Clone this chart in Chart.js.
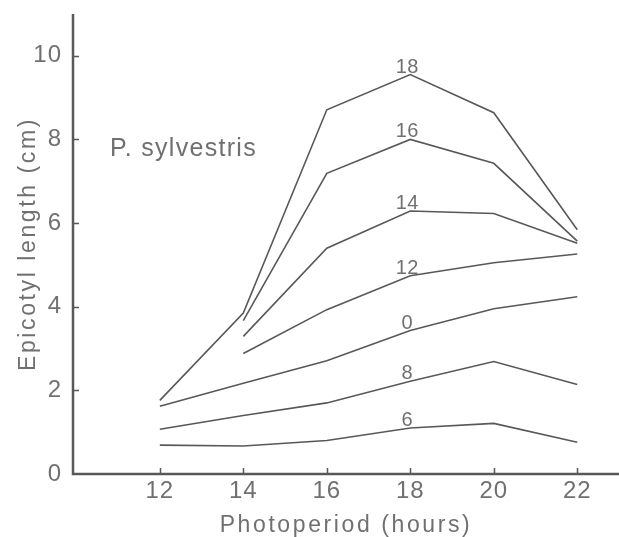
<!DOCTYPE html>
<html>
<head>
<meta charset="utf-8">
<script src="https://cdn.jsdelivr.net/npm/chart.js@4.4.1/dist/chart.umd.min.js"></script>
<style>
  html, body { margin: 0; padding: 0; background: #ffffff; overflow: hidden; }
  #wrap { height: 537px; position: relative; }
  canvas { display: block; }
</style>
</head>
<body>
<div id="wrap"><canvas id="c"></canvas></div>
<script>
// ---- data ----
const photoperiod = [12, 14, 16, 18, 20, 22];
const xTickValues = [12, 14, 16, 18, 20, 22];
const yTickValues = [0, 2, 4, 6, 8, 10];
const seriesNames = ['18', '16', '14', '12', '0', '8', '6'];
const s18 = [1.76, 3.85, 8.71, 9.55, 8.64, 5.84];
const s16 = [null, 3.67, 7.19, 8.00, 7.43, 5.57];
const s14 = [null, 3.29, 5.40, 6.29, 6.23, 5.52];
const s12 = [null, 2.88, 3.93, 4.74, 5.05, 5.26];
const s0  = [1.62, 2.17, 2.71, 3.43, 3.95, 4.24];
const s8  = [1.07, 1.40, 1.70, 2.22, 2.69, 2.14];
const s6  = [0.69, 0.67, 0.80, 1.10, 1.21, 0.76];
const seriesValues = [s18, s16, s14, s12, s0, s8, s6];
const labelAtHour = 18;
const xTitle = 'Photoperiod (hours)';
const yTitle = 'Epicotyl length (cm)';
const speciesNote = 'P. sylvestris';

const INK = '#585858';
const TEXT = '#707070';
const FONT = '"Liberation Sans", Arial, sans-serif';

const BASE_W = 619;
const canvasEl = document.getElementById('c');
const W = Math.max(BASE_W, window.innerWidth || BASE_W);
canvasEl.width = W;
canvasEl.height = 537;
canvasEl.style.width = W + 'px';
canvasEl.style.height = '537px';

const datasets = seriesNames.map((name, i) => ({
  label: name,
  data: photoperiod.map((h, j) => ({ x: h, y: seriesValues[i][j] })).filter(p => p.y !== null),
  borderColor: INK,
  borderWidth: 1.6,
  pointRadius: 0,
  fill: false,
  tension: 0
}));

const extrasPlugin = {
  id: 'extras',
  beforeLayout(chart) { chart.ctx.letterSpacing = '1px'; },
  beforeDraw(chart) { chart.ctx.letterSpacing = '1px'; },
  afterDraw(chart) {
    const ctx = chart.ctx;
    const xs = chart.scales.x, ys = chart.scales.y;
    const area = chart.chartArea;
    ctx.save();
    // axis lines
    ctx.strokeStyle = INK;
    ctx.lineWidth = 2.5;
    ctx.beginPath();
    ctx.moveTo(area.left, area.top);
    ctx.lineTo(area.left, area.bottom);
    ctx.lineTo(chart.width, area.bottom);
    ctx.stroke();
    // inward tick marks
    ctx.lineWidth = 1.5;
    ctx.beginPath();
    xTickValues.forEach(v => {
      const px = Math.round(xs.getPixelForValue(v)) + 0.5;
      ctx.moveTo(px, area.bottom);
      ctx.lineTo(px, area.bottom - 6);
    });
    yTickValues.forEach(v => {
      if (v === 0) return;
      const py = Math.round(ys.getPixelForValue(v)) + 0.5;
      ctx.moveTo(area.left, py);
      ctx.lineTo(area.left + 6, py);
    });
    ctx.stroke();

    // series labels above the 18 h point
    ctx.fillStyle = TEXT;
    ctx.letterSpacing = '0.5px';
    ctx.font = '20px ' + FONT;
    ctx.textAlign = 'center';
    ctx.textBaseline = 'alphabetic';
    const idx = photoperiod.indexOf(labelAtHour);
    seriesNames.forEach((name, i) => {
      const v = seriesValues[i][idx];
      const px = xs.getPixelForValue(labelAtHour);
      const py = ys.getPixelForValue(v);
      ctx.fillText(name, px - 3, py - 2);
    });

    // species note
    ctx.letterSpacing = '1.3px';
    ctx.font = '25px ' + FONT;
    ctx.textAlign = 'left';
    ctx.textBaseline = 'alphabetic';
    ctx.fillText(speciesNote, 110, 156);

    // axis titles (centred on the plot area)
    ctx.letterSpacing = '2.6px';
    ctx.font = '23px ' + FONT;
    ctx.textAlign = 'center';
    ctx.textBaseline = 'alphabetic';
    ctx.fillText(xTitle, (area.left + area.right) / 2, 532);
    ctx.save();
    ctx.translate(35, (area.top + area.bottom) / 2);
    ctx.rotate(-Math.PI / 2);
    ctx.fillText(yTitle, 0, 0);
    ctx.restore();
    ctx.restore();
  }
};

new Chart(canvasEl, {
  type: 'line',
  data: { datasets },
  options: {
    responsive: false,
    animation: false,
    devicePixelRatio: 1,
    events: [],
    layout: { padding: { top: 14, right: W - BASE_W, left: 0, bottom: 0 } },
    plugins: { legend: { display: false }, tooltip: { enabled: false } },
    scales: {
      x: {
        type: 'linear',
        min: 9.92,
        max: 23,
        afterBuildTicks: s => { s.ticks = xTickValues.map(v => ({ value: v })); },
        afterFit: s => { s.height = 63; s.paddingLeft = 0; s.paddingRight = 0; },
        grid: { display: false, drawTicks: false },
        border: { display: false },
        ticks: { color: TEXT, font: { family: FONT, size: 24 }, padding: 3, maxRotation: 0, autoSkip: false },
        title: { display: false }
      },
      y: {
        type: 'linear',
        min: 0,
        max: 11,
        afterBuildTicks: s => { s.ticks = yTickValues.map(v => ({ value: v })); },
        afterFit: s => { s.width = 73; s.paddingTop = 0; s.paddingBottom = 0; },
        grid: { display: false, drawTicks: false },
        border: { display: false },
        ticks: { color: TEXT, font: { family: FONT, size: 24 }, padding: 11 },
        title: { display: false }
      }
    }
  },
  plugins: [extrasPlugin]
});
</script>
</body>
</html>
